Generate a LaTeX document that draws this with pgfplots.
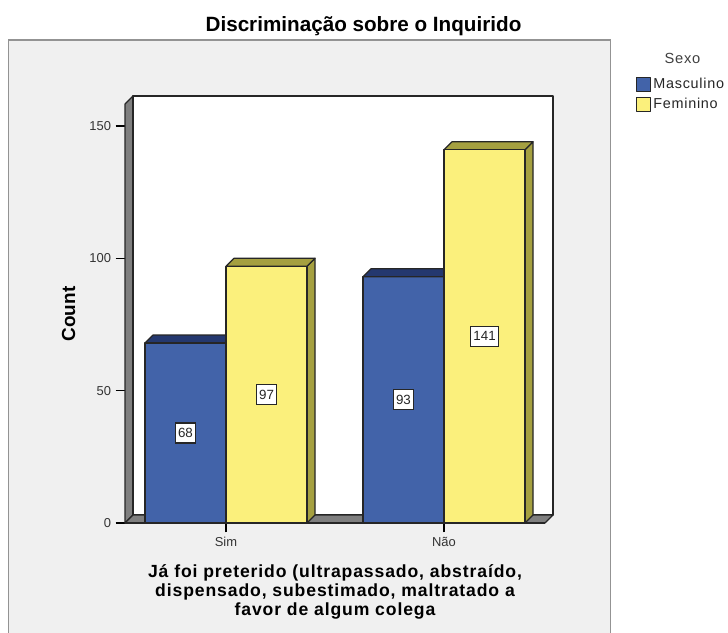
\documentclass[border=0pt]{standalone}
\usepackage{fontspec}
\setmainfont{Liberation Sans}
\newfontfamily\spaced[LetterSpace=5]{Liberation Sans}
\usepackage{pgfplots}
\pgfplotsset{compat=1.18}
\definecolor{panel}{HTML}{F0F0F0}
\definecolor{blu}{HTML}{4263A9}
\definecolor{bludark}{HTML}{24386F}
\definecolor{yel}{HTML}{FBF07C}
\definecolor{yeldark}{HTML}{A5A040}
\definecolor{wall}{HTML}{7F7F7F}
\pgfplotsset{
  face/.style={draw=black!85, line width=0.9pt, line join=round},
  nolab/.style={face, forget plot}
}
\begin{document}
\begin{tikzpicture}[x=0.75pt, y=0.75pt]
\useasboundingbox (0,0) rectangle (728,632);
\fill[white] (0,0) rectangle (728,632);
\draw[draw=gray!85, fill=panel, line width=1.1pt] (8.5,-10) rectangle (610.5,592);
\node[font=\bfseries\fontsize{15.5}{18}\selectfont] at (363.5,606) {Discriminação sobre o Inquirido};
\node[font=\spaced\fontsize{11}{13}\selectfont, text=black!75] at (682.5,574) {Sexo};
\begin{axis}[
  at={(93.75pt,81.75pt)}, anchor=south west,
  scale only axis, width=315pt, height=314.25pt,
  xmin=-0.4633, xmax=1.4633, ymin=0, ymax=158.3,
  clip=false,
  axis x line*=bottom, axis y line*=left,
  axis line style={draw=none},
  xtick={0,1}, xticklabels={Sim,Não},
  ytick={0,50,100,150},
  tick align=outside, major tick length=7pt,
  tick style={black, line width=0.9pt},
  tick label style={font=\fontsize{9.7}{11}\selectfont, text=black!80},
  /pgf/number format/assume math mode=true,
  ylabel={Count},
  ylabel style={font=\bfseries\fontsize{14.2}{16}\selectfont, at={(rel axis cs:-0.134,0.499)}, anchor=center, rotate=0},
  xlabel={Já foi preterido (ultrapassado, abstraído,\\dispensado, subestimado, maltratado a\\favor de algum colega},
  xlabel style={font=\spaced\bfseries\fontsize{13.2}{14.2}\selectfont, align=center, at={(rel axis cs:0.5,0)}, anchor=north, yshift=-28pt},
  legend style={at={(rel axis cs:1.217,1.0645)}, anchor=north west, draw=none, fill=none, inner sep=0pt, outer sep=0pt,
    font=\spaced\fontsize{10.8}{12}\selectfont, text=black!85, row sep=3.2pt, nodes={inner xsep=1.6pt, inner ysep=0.6pt}},
  legend cell align=left,
  legend image code/.code={\draw[#1, line width=0.9pt] (0pt,-5.3pt) rectangle (10.5pt,5.3pt);},
]
% side wall, floor, back wall
\addplot[nolab, fill=wall] coordinates {(-0.4633,158.3) (-0.4266,161.32) (-0.4266,3.02) (-0.4633,0)} -- cycle;
\addplot[nolab, fill=white] coordinates {(-0.4266,161.32) (1.5,161.32) (1.5,3.02) (-0.4266,3.02)} -- cycle;
\addplot[nolab, fill=wall] coordinates {(-0.4633,0) (-0.4266,3.02) (1.5,3.02) (1.4633,0)} -- cycle;
\draw[draw=black!85, line width=0.9pt] (axis cs:-0.4633,0) -- (axis cs:1.4633,0);
% Sim
\addplot[nolab, fill=bludark] coordinates {(-0.3716,68) (-0.3349,71.02) (0.0367,71.02) (0,68)} -- cycle;
\addplot[ybar, face, fill=blu, bar width=60.75pt, bar shift=-30.375pt] coordinates {(0,68) (1,93)};
\addlegendentry{Masculino}
\addplot[nolab, fill=yeldark] coordinates {(0.3716,0) (0.4083,3.02) (0.4083,100.02) (0.3716,97)} -- cycle;
\addplot[nolab, fill=yeldark] coordinates {(0,97) (0.0367,100.02) (0.4083,100.02) (0.3716,97)} -- cycle;
% Nao
\addplot[nolab, fill=bludark] coordinates {(0.6284,93) (0.6651,96.02) (1.0367,96.02) (1,93)} -- cycle;
\addplot[nolab, fill=yeldark] coordinates {(1.3716,0) (1.4083,3.02) (1.4083,144.02) (1.3716,141)} -- cycle;
\addplot[nolab, fill=yeldark] coordinates {(1,141) (1.0367,144.02) (1.4083,144.02) (1.3716,141)} -- cycle;
\addplot[ybar, face, fill=yel, bar width=60.75pt, bar shift=30.375pt] coordinates {(0,97) (1,141)};
\addlegendentry{Feminino}
% value labels at mid height
\addplot[forget plot, only marks, mark=none, point meta=explicit symbolic,
  nodes near coords, nodes near coords align=center,
  every node near coord/.style={draw=black!85, fill=white, line width=0.8pt, font=\fontsize{10}{11}\selectfont, minimum height=15pt, inner xsep=2pt, inner ysep=0pt, text=black!85, anchor=center}]
  coordinates {(-0.186,34)[68] (0.186,48.5)[97] (0.814,46.5)[93] (1.186,70.5)[141]};
\end{axis}
\end{tikzpicture}
\end{document}
